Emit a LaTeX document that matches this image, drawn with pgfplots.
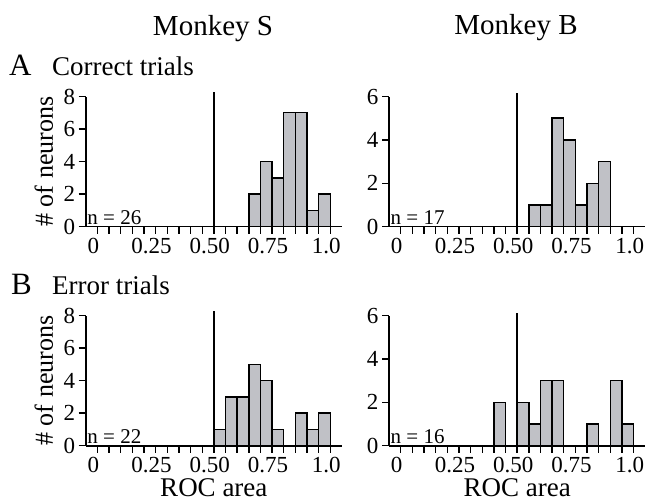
\documentclass[border=0pt]{standalone}
\usepackage{fontspec}
\setmainfont{Liberation Serif}
\usepackage{pgfplots}
\pgfplotsset{compat=1.18}
\definecolor{barfill}{RGB}{192,193,198}
\tikzset{nlab/.style={anchor=base west, inner sep=0pt, font=\fontsize{21}{22}\selectfont}}

\pgfplotsset{
  roc/.style={
    scale only axis,
    width=256.3pt, height=130.2pt,
    xmin=-0.05, xmax=1.05, ymin=0,
    axis lines=left,
    axis line style={-, line width=1.6pt, black},
    clip=false,
    tick align=outside,
    major tick length=7pt,
    minor tick length=7pt,
    every tick/.style={line width=1.4pt, black},
    every minor tick/.style={line width=1.4pt, black},
    xtick={0,0.25,0.5,0.75,1},
    xticklabels={0,0.25,0.50,0.75,1.0},
    minor xtick={0.05,0.1,0.15,0.2,0.3,0.35,0.4,0.45,0.55,0.6,0.65,0.7,0.8,0.85,0.9,0.95},
    /pgf/number format/assume math mode=true,
    ticklabel style={font=\fontsize{23}{24}\selectfont},
    xticklabel style={yshift=-3pt, xshift=-4pt, inner sep=1pt},
    ylabel style={at={(axis description cs:-0.163,0.5)}, anchor=center, font=\fontsize{26}{28}\selectfont},
    xlabel style={at={(axis description cs:0.5,-0.39)}, anchor=base, inner sep=0pt, font=\fontsize{27}{28}\selectfont},
  },
  bars/.style={ybar interval, fill=barfill, draw=black, line width=1.4pt},
  vline/.style={black, line width=1.6pt, no marks},
}

\begin{document}
\begin{tikzpicture}
\useasboundingbox (0,0) rectangle (645pt,501pt);

% titles
\node[anchor=base, font=\fontsize{29}{30}\selectfont] at (213pt,465pt) {Monkey S};
\node[anchor=base, font=\fontsize{29}{30}\selectfont] at (516pt,466pt) {Monkey B};
\node[anchor=base west, font=\fontsize{31}{32}\selectfont, inner sep=0pt] at (9pt,425pt) {A};
\node[anchor=base west, font=\fontsize{27}{28}\selectfont, inner sep=0pt] at (52pt,425pt) {Correct trials};
\node[anchor=base west, font=\fontsize{31}{32}\selectfont, inner sep=0pt] at (11pt,206pt) {B};
\node[anchor=base west, font=\fontsize{27}{28}\selectfont, inner sep=0pt] at (52pt,206pt) {Error trials};

% A, Monkey S
\begin{axis}[roc, at={(85.7pt,274.3pt)}, anchor=south west,
  ymax=8, ytick={0,2,4,6,8}, ylabel={\# of neurons}]
\addplot[bars] coordinates {(0.65,2) (0.70,4) (0.75,3) (0.80,7) (0.85,7) (0.90,1) (0.95,2) (1.00,0)};
\addplot[vline] coordinates {(0.5,0) (0.5,8.3)};
\node[nlab] at (axis description cs:0.006,0.02) {n = 26};
\end{axis}

% A, Monkey B
\begin{axis}[roc, at={(389pt,274.3pt)}, anchor=south west,
  ymax=6, ytick={0,2,4,6}]
\addplot[bars] coordinates {(0.55,1) (0.60,1) (0.65,5) (0.70,4) (0.75,1) (0.80,2) (0.85,3) (0.90,0)};
\addplot[vline] coordinates {(0.5,0) (0.5,6.14)};
\node[nlab] at (axis description cs:0.006,0.02) {n = 17};
\end{axis}

% B, Monkey S
\begin{axis}[roc, at={(85.7pt,55.3pt)}, anchor=south west,
  ymax=8, ytick={0,2,4,6,8}, ylabel={\# of neurons}, xlabel={ROC area}]
\addplot[bars] coordinates {(0.50,1) (0.55,3) (0.60,3) (0.65,5) (0.70,4) (0.75,1) (0.80,0) (0.85,2) (0.90,1) (0.95,2) (1.00,0)};
\addplot[vline] coordinates {(0.5,0) (0.5,8.26)};
\node[nlab] at (axis description cs:0.006,0.02) {n = 22};
\end{axis}

% B, Monkey B
\begin{axis}[roc, at={(389pt,55.3pt)}, anchor=south west,
  ymax=6, ytick={0,2,4,6}, xlabel={ROC area}]
\addplot[bars] coordinates {(0.40,2) (0.45,0) (0.50,2) (0.55,1) (0.60,3) (0.65,3) (0.70,0) (0.75,0) (0.80,1) (0.85,0) (0.90,3) (0.95,1) (1.00,0)};
\addplot[vline] coordinates {(0.5,0) (0.5,6.1)};
\node[nlab] at (axis description cs:0.006,0.02) {n = 16};
\end{axis}
\end{tikzpicture}
\end{document}
